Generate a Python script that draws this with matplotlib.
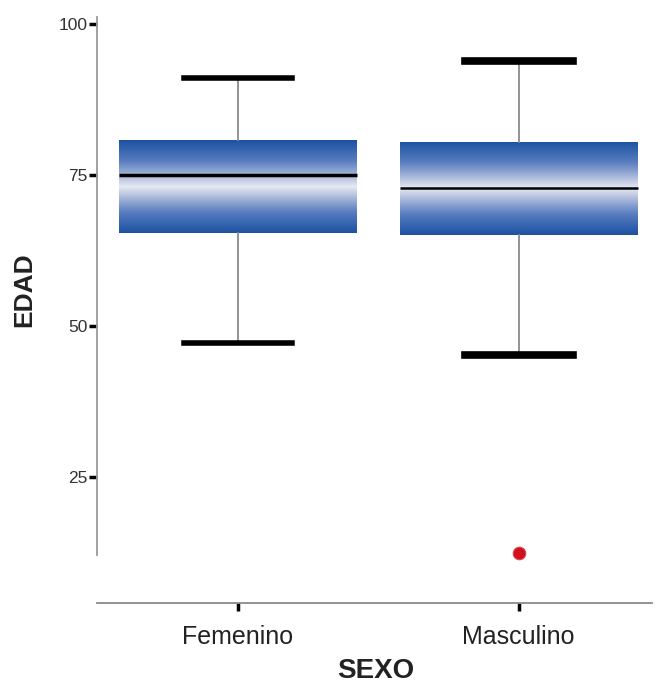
import numpy as np
import matplotlib
matplotlib.use("Agg")
import matplotlib.pyplot as plt
from matplotlib.colors import LinearSegmentedColormap

plt.rcParams['font.family'] = ['Liberation Sans', 'DejaVu Sans']

# ---- data ----
categories = ["Femenino", "Masculino"]
whisker_low = [47.2, 45.2]
q1 = [65.4, 65.0]
median = [75.0, 72.8]
q3 = [80.8, 80.45]
whisker_high = [91.0, 93.9]
outliers = [[], [12.4]]
y_ticks = [25, 50, 75, 100]

fig = plt.figure(figsize=(6.57, 6.86), dpi=100)
ax = fig.add_axes([97/657, 1-603/686, (652-97)/657, (603-17)/686])

stats = []
for i, c in enumerate(categories):
    stats.append(dict(label=c, whislo=whisker_low[i], q1=q1[i], med=median[i],
                      q3=q3[i], whishi=whisker_high[i], fliers=outliers[i]))

positions = list(range(len(categories)))
bp = ax.bxp(stats, positions=positions, widths=0.848, patch_artist=True,
            showfliers=True, capwidths=0.385,
            boxprops=dict(facecolor='none', edgecolor='none', linewidth=0),
            whiskerprops=dict(color='#8a8a8a', linewidth=1.3),
            capprops=dict(color='black', linewidth=4),
            medianprops=dict(color='black', linewidth=2.5),
            flierprops=dict(marker='o', markerfacecolor='#d0101a',
                            markeredgecolor='#e04050', markersize=9, markeredgewidth=0.8))

# thicker caps for second group
for cap in bp['caps'][2:4]:
    cap.set_linewidth(5.5)
bp['medians'][1].set_linewidth(1.8)

# gradient fill clipped to box patches
cmap = LinearSegmentedColormap.from_list(
    'boxgrad', [(0.0, '#e8ebf4'), (0.2, '#c2cbe3'), (0.6, '#5a7ec0'), (1.0, '#1c52a2')])
ygrid = np.linspace(-1, 1, 256)
grad = np.abs(ygrid).reshape(-1, 1) ** 0.85
for i, patch in enumerate(bp['boxes']):
    x0 = positions[i] - 0.424
    x1 = positions[i] + 0.424
    im = ax.imshow(grad, extent=[x0, x1, q1[i], q3[i]], origin='lower',
                   aspect='auto', cmap=cmap, vmin=0, vmax=1, zorder=1.5,
                   interpolation='bilinear')
    im.set_clip_path(patch)
for m in bp['medians']:
    m.set_zorder(3)

ax.set_xlim(-0.502, 1.475)
ax.set_ylim(4.08, 101.16)

ax.set_yticks(y_ticks)
ax.set_xticks(positions)
ax.set_xticklabels(categories)

for s in ['top', 'right']:
    ax.spines[s].set_visible(False)
ax.spines['left'].set_color('#9a9a9a')
ax.spines['left'].set_linewidth(1.3)
ax.spines['left'].set_bounds(12.0, 101.16)
ax.spines['bottom'].set_color('#8a8a8a')
ax.spines['bottom'].set_linewidth(1.3)

ax.tick_params(axis='y', direction='out', length=6, width=2.5, color='black',
               labelsize=12.5, pad=1, labelcolor='#333333')
ax.tick_params(axis='x', direction='out', length=6, width=2.5, color='black',
               labelsize=18, pad=10, labelcolor='#222222')

ax.set_ylabel("EDAD", fontsize=19, fontweight='bold', color='#222222')
ax.yaxis.set_label_coords((24-97)/555, (603-290)/586)
ax.set_xlabel("SEXO", fontsize=20, fontweight='bold', color='#222222')
ax.xaxis.set_label_coords((376-97)/555, (603-671)/586)
ax.xaxis.label.set_va('center')
ax.yaxis.label.set_va('center')

fig.savefig("out.png", dpi=100)
